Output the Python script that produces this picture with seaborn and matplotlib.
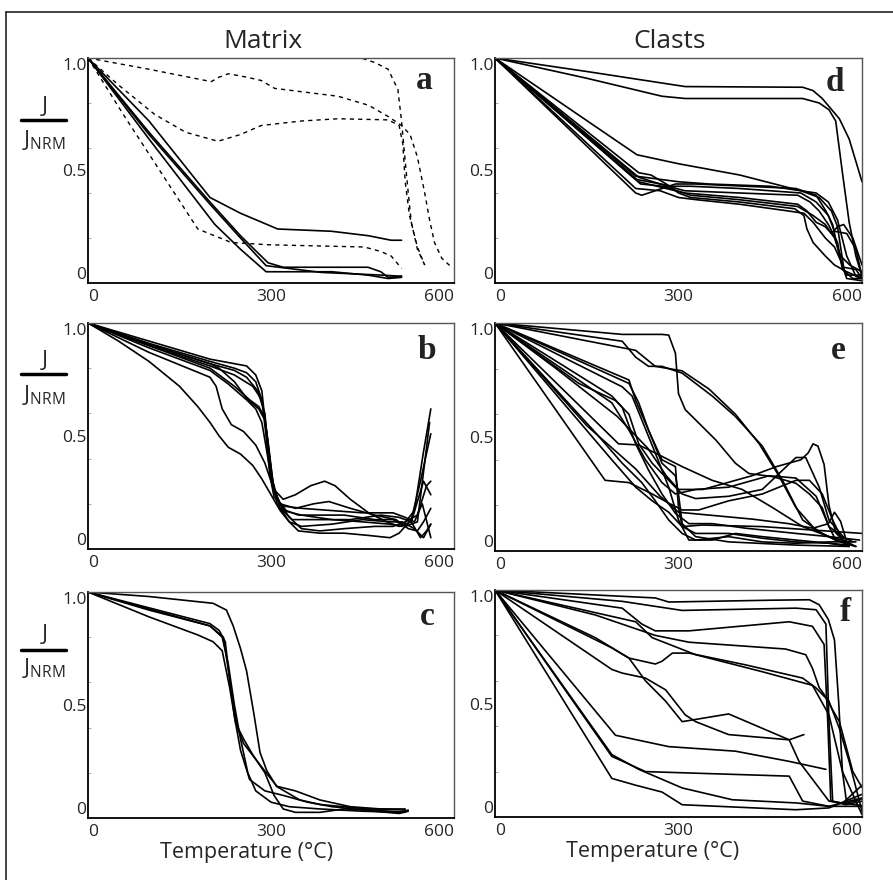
import numpy as np
import pandas as pd
import matplotlib
matplotlib.use("Agg")
import matplotlib.pyplot as plt
import seaborn as sns

sns.set_style("white")
plt.rcParams['font.family'] = ['Open Sans', 'DejaVu Sans']
plt.rcParams['mathtext.default'] = 'regular'

#%% Data: thermal demagnetisation curves, (temperature degC, J/J_NRM)
# panel a, matrix: solid curves
a_solid = [
    [(0, 1), (100, 0.72), (200, 0.38), (250, 0.31), (311, 0.24), (399, 0.23), (460, 0.21), (497, 0.19), (514, 0.19)],
    [(0, 1), (100, 0.64), (208, 0.26), (250, 0.15), (292, 0.05), (400, 0.05), (459, 0.035), (492, 0.02), (514, 0.025)],
    [(0, 1), (100, 0.67), (200, 0.36), (250, 0.21), (295, 0.09), (320, 0.07), (459, 0.07), (480, 0.05), (492, 0.025), (514, 0.03)],
    [(0, 1), (100, 0.66), (200, 0.35), (250, 0.20), (292, 0.077), (383, 0.047), (481, 0.035), (514, 0.03)],
]
# panel a, matrix: dashed curves
a_dashed = [
    [(0, 1), (100, 0.95), (202, 0.895), (215, 0.915), (230, 0.93), (260, 0.915), (284, 0.90), (306, 0.865),
     (410, 0.83), (460, 0.79), (492, 0.74), (514, 0.70), (528, 0.66), (540, 0.56), (552, 0.40),
     (560, 0.28), (568, 0.18), (580, 0.11), (596, 0.07)],
    [(0, 1), (50, 0.88), (109, 0.75), (160, 0.67), (213, 0.63), (250, 0.66), (284, 0.70), (350, 0.72),
     (410, 0.73), (492, 0.725), (510, 0.70), (516, 0.62), (520, 0.45), (527, 0.30), (540, 0.16), (552, 0.08)],
    [(437, 1.01), (470, 0.98), (492, 0.95), (508, 0.86), (514, 0.72), (519, 0.57), (525, 0.40),
     (530, 0.27), (540, 0.15), (552, 0.08)],
    [(0, 1), (60, 0.74), (120, 0.49), (180, 0.24), (235, 0.18), (295, 0.17), (453, 0.16), (480, 0.14),
     (497, 0.12), (514, 0.065)],
]
# panel b, matrix
b_curves = [
    [(0, 1), (50, 0.92), (100, 0.83), (150, 0.72), (180, 0.63), (200, 0.56), (215, 0.50), (230, 0.45), (250, 0.42),
     (270, 0.37), (285, 0.31), (300, 0.24), (315, 0.17), (330, 0.12), (350, 0.10), (400, 0.11), (450, 0.13),
     (495, 0.12), (515, 0.12), (535, 0.09), (550, 0.05), (562, 0.11)],
    [(0, 1), (100, 0.87), (200, 0.76), (210, 0.72), (220, 0.62), (235, 0.55), (255, 0.52), (275, 0.46), (290, 0.38),
     (300, 0.30), (315, 0.20), (330, 0.14), (350, 0.09), (380, 0.08), (420, 0.09), (470, 0.10), (500, 0.10),
     (520, 0.12), (540, 0.15), (555, 0.28), (562, 0.30)],
    [(0, 1), (100, 0.89), (200, 0.79), (230, 0.73), (260, 0.66), (275, 0.62), (285, 0.56), (292, 0.45), (300, 0.32),
     (310, 0.22), (325, 0.17), (345, 0.15), (380, 0.15), (420, 0.15), (470, 0.13), (500, 0.13), (520, 0.10),
     (540, 0.12), (560, 0.56)],
    [(0, 1), (100, 0.90), (200, 0.80), (240, 0.72), (265, 0.66), (280, 0.63), (290, 0.58), (296, 0.45), (302, 0.30),
     (310, 0.20), (330, 0.12), (345, 0.08), (380, 0.07), (420, 0.07), (460, 0.06), (495, 0.05), (510, 0.07),
     (530, 0.13), (545, 0.30), (562, 0.51)],
    [(0, 1), (100, 0.91), (200, 0.83), (240, 0.80), (260, 0.78), (275, 0.74), (285, 0.66), (292, 0.50), (298, 0.33),
     (305, 0.23), (320, 0.19), (350, 0.18), (400, 0.17), (450, 0.16), (500, 0.16), (520, 0.14), (535, 0.12),
     (548, 0.20), (562, 0.05)],
    [(0, 1), (100, 0.92), (200, 0.84), (240, 0.82), (260, 0.81), (275, 0.77), (285, 0.70), (292, 0.52), (298, 0.36),
     (306, 0.26), (320, 0.22), (340, 0.24), (365, 0.28), (388, 0.30), (405, 0.28), (430, 0.22), (460, 0.16),
     (490, 0.12), (510, 0.10), (530, 0.12), (545, 0.05), (555, 0.08), (562, 0.11)],
    [(0, 1), (100, 0.905), (200, 0.82), (240, 0.79), (260, 0.76), (278, 0.70), (290, 0.60), (296, 0.42), (302, 0.28),
     (315, 0.20), (340, 0.18), (370, 0.20), (395, 0.21), (430, 0.18), (470, 0.15), (505, 0.13), (525, 0.09),
     (540, 0.08), (550, 0.12), (562, 0.18)],
    [(0, 1), (100, 0.90), (200, 0.81), (240, 0.77), (270, 0.72), (285, 0.66), (295, 0.48), (303, 0.30), (315, 0.18),
     (335, 0.13), (380, 0.13), (430, 0.13), (480, 0.15), (510, 0.14), (530, 0.12), (550, 0.30), (562, 0.24)],
    [(0, 1), (100, 0.905), (200, 0.82), (215, 0.80), (240, 0.74), (262, 0.66), (280, 0.62), (290, 0.57), (297, 0.42),
     (305, 0.26), (320, 0.17), (350, 0.15), (400, 0.13), (450, 0.12), (495, 0.11), (515, 0.10), (535, 0.17),
     (550, 0.43), (562, 0.62)],
]
# panel c, matrix
c_curves = [
    [(0, 1), (100, 0.98), (205, 0.95), (227, 0.92), (238, 0.85), (250, 0.75), (260, 0.65), (272, 0.46), (282, 0.29),
     (293, 0.21), (309, 0.14), (347, 0.08), (380, 0.06), (457, 0.04), (520, 0.04)],
    [(0, 1), (100, 0.93), (200, 0.86), (215, 0.83), (225, 0.78), (235, 0.55), (245, 0.40), (255, 0.33), (275, 0.26),
     (295, 0.19), (310, 0.14), (340, 0.12), (380, 0.08), (430, 0.05), (480, 0.04), (520, 0.035)],
    [(0, 1), (100, 0.92), (200, 0.85), (222, 0.80), (232, 0.62), (240, 0.45), (250, 0.30), (265, 0.17), (290, 0.12),
     (320, 0.10), (360, 0.07), (400, 0.05), (470, 0.03), (510, 0.02), (525, 0.03)],
    [(0, 1), (100, 0.89), (180, 0.81), (205, 0.78), (220, 0.74), (232, 0.58), (242, 0.42), (255, 0.35), (270, 0.28),
     (290, 0.20), (305, 0.10), (320, 0.04), (340, 0.025), (380, 0.025), (420, 0.04), (470, 0.035), (520, 0.025)],
    [(0, 1), (100, 0.925), (200, 0.85), (220, 0.80), (230, 0.68), (240, 0.50), (250, 0.35), (262, 0.20), (275, 0.12),
     (300, 0.07), (330, 0.05), (380, 0.04), (450, 0.03), (510, 0.025), (525, 0.035)],
]
# panel d, clasts
d_curves = [
    [(0, 1), (150, 0.94), (311, 0.873), (503, 0.87), (520, 0.855), (535, 0.82), (563, 0.73), (579, 0.64), (600, 0.45)],
    [(0, 1), (150, 0.91), (273, 0.83), (311, 0.82), (503, 0.82), (530, 0.80), (546, 0.77), (557, 0.72), (568, 0.49),
     (579, 0.27), (590, 0.12), (600, 0.03)],
    [(0, 1), (232, 0.57), (300, 0.53), (400, 0.48), (500, 0.41), (525, 0.40), (545, 0.36), (560, 0.28), (575, 0.12),
     (590, 0.03), (600, 0.02)],
    [(0, 1), (230, 0.40), (240, 0.39), (262, 0.41), (295, 0.44), (328, 0.44), (492, 0.42), (525, 0.39), (541, 0.32),
     (552, 0.26), (563, 0.12), (574, 0.035), (600, 0.035)],
    [(0, 1), (230, 0.42), (270, 0.41), (300, 0.38), (330, 0.37), (400, 0.35), (480, 0.32), (505, 0.31), (520, 0.27),
     (540, 0.20), (555, 0.16), (565, 0.10), (575, 0.02), (600, 0.01)],
    [(0, 1), (235, 0.49), (255, 0.48), (280, 0.44), (300, 0.40), (320, 0.38), (400, 0.36), (490, 0.33), (505, 0.30),
     (510, 0.24), (520, 0.18), (540, 0.12), (555, 0.08), (575, 0.05), (600, 0.02)],
    [(0, 1), (235, 0.47), (270, 0.44), (310, 0.41), (400, 0.40), (495, 0.39), (515, 0.36), (530, 0.32), (545, 0.26),
     (560, 0.18), (568, 0.06), (585, 0.02), (600, 0.02)],
    [(0, 1), (235, 0.45), (280, 0.42), (310, 0.40), (400, 0.38), (495, 0.35), (510, 0.32), (525, 0.27), (540, 0.25),
     (550, 0.22), (560, 0.25), (570, 0.26), (585, 0.20), (600, 0.08)],
    [(0, 1), (232, 0.46), (290, 0.43), (320, 0.43), (400, 0.42), (500, 0.40), (525, 0.36), (545, 0.30), (555, 0.23),
     (575, 0.22), (590, 0.15), (600, 0.03)],
    [(0, 1), (238, 0.44), (275, 0.43), (320, 0.39), (400, 0.37), (495, 0.34), (520, 0.30), (540, 0.26), (555, 0.20),
     (565, 0.12), (580, 0.08), (600, 0.05)],
    [(0, 1), (230, 0.475), (300, 0.45), (350, 0.44), (450, 0.43), (500, 0.41), (530, 0.38), (550, 0.32), (560, 0.25),
     (570, 0.07), (590, 0.06), (600, 0.02)],
]
# panel e, clasts
e_curves = [
    [(0, 1), (208, 0.95), (273, 0.95), (284, 0.947), (295, 0.867), (300, 0.69), (311, 0.62), (328, 0.575),
     (361, 0.487), (393, 0.385), (415, 0.34), (454, 0.326), (492, 0.297), (514, 0.25), (535, 0.19), (546, 0.107),
     (557, 0.048), (574, 0.034)],
    [(0, 1), (208, 0.92), (230, 0.85), (251, 0.81), (273, 0.81), (306, 0.78), (355, 0.68), (393, 0.59), (437, 0.46),
     (470, 0.31), (503, 0.136), (535, 0.077), (557, 0.048), (579, 0.034)],
    [(0, 1), (230, 0.88), (262, 0.81), (306, 0.79), (350, 0.71), (393, 0.60), (432, 0.47), (464, 0.33), (492, 0.19),
     (525, 0.09), (557, 0.048), (579, 0.026)],
    [(0, 1), (100, 0.80), (200, 0.59), (250, 0.45), (280, 0.33), (300, 0.27), (340, 0.27), (380, 0.30), (420, 0.33),
     (460, 0.37), (500, 0.40), (512, 0.43), (520, 0.47), (528, 0.46), (538, 0.38), (546, 0.20), (557, 0.08),
     (575, 0.03), (590, 0.02)],
    [(0, 1), (202, 0.47), (235, 0.465), (262, 0.43), (306, 0.37), (355, 0.31), (404, 0.27), (454, 0.19), (503, 0.107),
     (546, 0.063), (579, 0.04)],
    [(0, 1), (180, 0.31), (219, 0.30), (257, 0.25), (284, 0.21), (306, 0.18), (333, 0.18), (382, 0.22), (437, 0.25),
     (492, 0.31), (514, 0.31), (535, 0.25), (552, 0.136), (568, 0.048), (579, 0.034)],
    [(0, 1), (191, 0.40), (230, 0.28), (257, 0.22), (284, 0.17), (306, 0.107), (328, 0.077), (382, 0.077),
     (437, 0.056), (492, 0.04), (546, 0.034), (579, 0.026)],
    [(0, 1), (208, 0.72), (224, 0.68), (240, 0.575), (262, 0.43), (284, 0.28), (300, 0.136), (317, 0.048),
     (355, 0.048), (393, 0.077), (437, 0.063), (492, 0.048), (546, 0.034), (579, 0.02)],
    [(0, 1), (219, 0.75), (230, 0.66), (251, 0.53), (273, 0.40), (295, 0.37), (300, 0.19), (306, 0.107),
     (339, 0.114), (437, 0.107), (519, 0.092), (601, 0.077)],
    [(0, 1), (191, 0.68), (208, 0.63), (230, 0.47), (251, 0.355), (273, 0.25), (295, 0.165), (317, 0.12),
     (355, 0.12), (410, 0.10), (492, 0.077), (546, 0.063), (596, 0.048)],
    [(0, 1), (164, 0.52), (208, 0.385), (240, 0.30), (262, 0.22), (284, 0.136), (306, 0.077), (328, 0.048),
     (382, 0.063), (437, 0.04), (492, 0.034), (546, 0.04), (590, 0.04)],
    [(0, 1), (137, 0.735), (197, 0.66), (219, 0.60), (235, 0.47), (257, 0.385), (284, 0.31), (306, 0.25), (328, 0.23),
     (382, 0.24), (437, 0.27), (492, 0.41), (508, 0.41), (530, 0.28), (546, 0.136), (574, 0.048)],
    [(0, 1), (191, 0.65), (219, 0.53), (246, 0.40), (273, 0.30), (295, 0.25), (328, 0.27), (382, 0.28), (448, 0.33),
     (492, 0.32), (525, 0.24), (546, 0.107), (568, 0.063), (585, 0.04)],
    [(0, 1), (219, 0.735), (235, 0.65), (251, 0.53), (273, 0.385), (295, 0.33), (300, 0.25), (306, 0.12),
     (328, 0.063), (382, 0.04), (492, 0.026), (579, 0.02)],
    [(0, 1), (150, 0.55), (230, 0.36), (270, 0.24), (300, 0.17), (340, 0.16), (420, 0.14), (480, 0.12), (520, 0.10),
     (545, 0.12), (555, 0.17), (565, 0.13), (575, 0.04), (590, 0.02)],
]
# panel f, clasts
f_curves = [
    [(0, 1), (262, 0.965), (284, 0.947), (450, 0.955), (514, 0.957), (530, 0.935), (545, 0.87), (555, 0.78),
     (562, 0.50), (568, 0.20), (575, 0.06), (600, 0.08)],
    [(0, 1), (208, 0.95), (306, 0.91), (492, 0.92), (525, 0.913), (541, 0.85), (546, 0.42), (552, 0.07), (568, 0.06),
     (600, 0.14)],
    [(0, 1), (208, 0.92), (240, 0.85), (262, 0.82), (317, 0.82), (481, 0.86), (519, 0.84), (538, 0.76), (544, 0.42),
     (549, 0.07), (574, 0.054), (600, 0.07)],
    [(0, 1), (164, 0.89), (262, 0.80), (317, 0.77), (475, 0.74), (508, 0.715), (519, 0.655), (530, 0.57),
     (546, 0.51), (563, 0.39), (579, 0.245), (600, 0.025)],
    [(0, 1), (164, 0.79), (219, 0.70), (262, 0.674), (273, 0.686), (290, 0.722), (317, 0.722), (410, 0.67),
     (503, 0.612), (525, 0.568), (541, 0.524), (563, 0.42), (585, 0.20), (600, 0.13)],
    [(0, 1), (191, 0.65), (208, 0.634), (246, 0.612), (279, 0.56), (311, 0.45), (328, 0.42), (382, 0.363),
     (481, 0.34), (505, 0.363)],
    [(0, 1), (191, 0.745), (219, 0.70), (246, 0.60), (279, 0.51), (306, 0.42), (382, 0.454), (481, 0.34),
     (497, 0.245), (546, 0.07), (600, 0.05)],
    [(0, 1), (197, 0.36), (284, 0.31), (393, 0.29), (481, 0.245), (541, 0.21)],
    [(0, 1), (191, 0.267), (246, 0.20), (481, 0.18), (503, 0.07), (546, 0.047), (600, 0.084)],
    [(0, 1), (191, 0.275), (235, 0.21), (306, 0.128), (388, 0.076), (492, 0.062), (546, 0.047), (600, 0.047)],
    [(0, 1), (191, 0.17), (230, 0.14), (273, 0.11), (306, 0.054), (492, 0.032), (546, 0.04), (600, 0.10)],
    [(0, 1), (230, 0.86), (257, 0.79), (328, 0.715), (437, 0.64), (519, 0.58), (546, 0.45), (568, 0.20), (600, 0.01)],
]

column_titles = ["Matrix", "Clasts"]
x_ticks = [0, 100, 200, 300, 400, 500, 600]
x_ticklabels = ["0", "", "", "300", "", "", "600"]
y_ticks = [0, 0.5, 1.0]
y_ticklabels = ["0", "0.5", "1.0"]


def to_frame(curves):
    rows = []
    for k, c in enumerate(curves):
        for t, j in c:
            rows.append((k, t, j))
    return pd.DataFrame(rows, columns=["curve", "T", "J"])


def style_axes(ax, letter, lpos):
    ax.set_xlim(0, 600)
    ax.set_ylim(0, 1.0)
    ax.set_xticks(x_ticks)
    ax.set_xticklabels(x_ticklabels)
    ax.set_yticks(y_ticks)
    ax.set_yticklabels(y_ticklabels)
    ax.set_yticks([0.2, 0.4, 0.6, 0.8], minor=True)
    ax.tick_params(axis='both', which='major', direction='in', length=4, width=2.0,
                   labelsize=12.5, color='black')
    ax.tick_params(axis='y', which='minor', direction='in', length=2, width=0.6, color='#999999', left=True)
    ax.tick_params(axis='x', pad=4)
    ax.tick_params(axis='y', pad=1)
    xl = ax.get_xticklabels()
    xl[0].set_ha('left')
    xl[-1].set_ha('right')
    yl = ax.get_yticklabels()
    yl[0].set_va('bottom')
    yl[-1].set_va('top')
    ax.set_xlabel("")
    ax.set_ylabel("")
    for s in ['left', 'bottom']:
        ax.spines[s].set_color('black')
        ax.spines[s].set_linewidth(1.3)
    for s in ['top', 'right']:
        ax.spines[s].set_color('#555555')
        ax.spines[s].set_linewidth(1.0)
    ax.text(lpos[0], lpos[1], letter, transform=ax.transAxes, ha='center', va='center',
            fontsize=24, fontweight='bold', family='Liberation Serif', color='#222222')


def draw(ax, curves, ls='-', lw=1.2):
    df = to_frame(curves)
    n0 = len(ax.get_lines())
    sns.lineplot(data=df, x="T", y="J", units="curve", estimator=None, sort=False,
                 color='black', linewidth=lw, ax=ax, legend=False)
    for line in ax.get_lines()[n0:]:
        line.set_linestyle(ls)


fig = plt.figure(figsize=(8.93, 8.8), dpi=100)
W, H = 893.0, 880.0


def axes_px(x0, y0, x1, y1):
    return fig.add_axes([x0 / W, 1 - y1 / H, (x1 - x0) / W, (y1 - y0) / H])


ax_a = axes_px(88, 58, 454, 283)
ax_b = axes_px(88, 323, 454, 549)
ax_c = axes_px(88, 592, 454, 818)
ax_d = axes_px(495, 58, 862, 283)
ax_e = axes_px(495, 323, 862, 551)
ax_f = axes_px(495, 590, 862, 817)

draw(ax_a, a_solid)
draw(ax_a, a_dashed, ls=(0, (3, 3)), lw=1.0)
draw(ax_b, b_curves)
draw(ax_c, c_curves)
draw(ax_d, d_curves)
draw(ax_e, e_curves)
draw(ax_f, f_curves)

style_axes(ax_a, "a", (0.92, 0.90))
style_axes(ax_b, "b", (0.926, 0.88))
style_axes(ax_c, "c", (0.926, 0.89))
style_axes(ax_d, "d", (0.926, 0.89))
style_axes(ax_e, "e", (0.935, 0.88))
style_axes(ax_f, "f", (0.954, 0.90))

# column titles
fig.text(263 / W, 1 - 42 / H, column_titles[0], ha='center', va='center', fontsize=19)
fig.text(670 / W, 1 - 42 / H, column_titles[1], ha='center', va='center', fontsize=19)

# x labels
fig.text(247 / W, 1 - 852 / H, "Temperature (°C)", ha='center', va='center', fontsize=15.5)
fig.text(653 / W, 1 - 851 / H, "Temperature (°C)", ha='center', va='center', fontsize=15.5)

# y labels as a fraction J / J_NRM
for yj, ybar, yn in [(107, 120, 140), (360, 374, 395), (635, 650, 668)]:
    fig.text(45 / W, 1 - yj / H, "J", ha='center', va='center', fontsize=16)
    fig.add_artist(plt.Line2D([21 / W, 66 / W], [1 - ybar / H, 1 - ybar / H], color='black', linewidth=2.5))
    fig.text(44 / W, 1 - yn / H, r"J$_{\mathregular{NRM}}$", ha='center', va='center', fontsize=16)

# outer frame (cropped at right and bottom)
fig.add_artist(plt.Line2D([6 / W, 1.0], [1 - 12 / H, 1 - 12 / H], color='#222222', linewidth=1.2))
fig.add_artist(plt.Line2D([6 / W, 6 / W], [1 - 12 / H, 0.0], color='#222222', linewidth=1.2))

fig.savefig("out.png", dpi=100)
